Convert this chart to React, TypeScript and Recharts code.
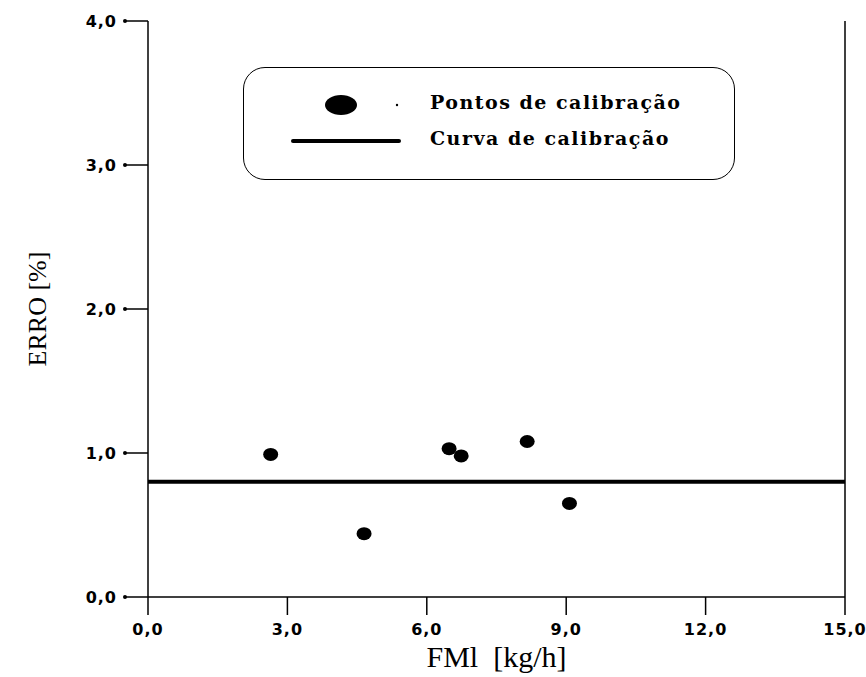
import { ComposedChart, Scatter, Line, XAxis, YAxis } from 'recharts';

// pontos de calibração
const pointX = [2.64, 4.65, 6.48, 6.74, 8.16, 9.07];
const pointY = [0.99, 0.44, 1.03, 0.98, 1.08, 0.65];
// curva de calibração
const curveX = [0, 15];
const curveY = [0.8, 0.8];
const xTicks = [0, 3, 6, 9, 12, 15];
const yTicks = [0, 1, 2, 3, 4];

const points = pointX.map((x, i) => ({ x, y: pointY[i] }));
const curve = curveX.map((x, i) => ({ x, y: curveY[i] }));

const fmt = (v: number) => v.toFixed(1).replace('.', ',');

const tickFont = { fontFamily: 'DejaVu Sans', fontWeight: 700, fontSize: 16, letterSpacing: 1, fill: '#000' };

const YTick = ({ x, y, payload }: any) => (
  <g>
    <circle cx={x + 9} cy={y} r={2} fill="#000" />
    <text x={x + 1} y={y} dy={6} textAnchor="end" {...tickFont}>{fmt(payload.value)}</text>
  </g>
);

const XTick = ({ x, y, payload }: any) => (
  <text x={x} y={y} dy={16} textAnchor="middle" {...tickFont}>{fmt(payload.value)}</text>
);

const Dot = ({ cx, cy }: any) => <ellipse cx={cx} cy={cy} rx={7.5} ry={6.5} fill="#000" />;

function LegendBox() {
  const text = { fontFamily: 'DejaVu Serif', fontWeight: 700, fontSize: 19, letterSpacing: 1.5, color: '#000' };
  return (
    <div style={{
      position: 'absolute', left: 243, top: 67, width: 490, height: 111,
      border: '1.5px solid #000', borderRadius: 22, background: '#fff',
    }}>
      <svg width={170} height={111} style={{ position: 'absolute', left: 0, top: 0 }}>
        <ellipse cx={97} cy={37} rx={16} ry={10} fill="#000" />
        <circle cx={153} cy={37} r={1.2} fill="#000" />
        <line x1={49} y1={73} x2={155} y2={73} stroke="#000" strokeWidth={4} strokeLinecap="round" />
      </svg>
      <div style={{ ...text, position: 'absolute', left: 186, top: 23, whiteSpace: 'nowrap' }}>Pontos de calibração</div>
      <div style={{ ...text, position: 'absolute', left: 186, top: 59, whiteSpace: 'nowrap' }}>Curva de calibração</div>
    </div>
  );
}

export default function App() {
  return (
    <div style={{ position: 'absolute', left: 0, top: 0, width: 866, height: 677, background: '#fff' }}>
      <ComposedChart width={866} height={677} margin={{ top: 21, right: 0, left: 0, bottom: 0 }}>
        <XAxis
          type="number"
          dataKey="x"
          domain={[0, 15]}
          ticks={xTicks}
          height={80}
          tickSize={18}
          tickMargin={4}
          tick={<XTick />}
          stroke="#000"
          strokeWidth={1.5}
          allowDataOverflow
          label={{ value: 'FMl\u00a0\u00a0[kg/h]', position: 'insideBottom', offset: 10, style: { fontFamily: 'Liberation Serif', fontSize: 30, fill: '#000' } }}
        />
        <YAxis
          yAxisId="left"
          type="number"
          dataKey="y"
          domain={[0, 4]}
          ticks={yTicks}
          width={148}
          tickSize={22}
          tickMargin={10}
          tick={<YTick />}
          stroke="#000"
          strokeWidth={1.5}
          label={{ value: 'ERRO [%]', angle: -90, position: 'insideLeft', offset: 37, style: { fontFamily: 'Liberation Serif', fontSize: 26, fill: '#000', textAnchor: 'middle' } }}
        />
        <YAxis
          yAxisId="right"
          orientation="right"
          type="number"
          domain={[0, 4]}
          width={21}
          tick={false}
          tickLine={false}
          stroke="#000"
          strokeWidth={1.5}
        />
        <Line
          yAxisId="left"
          data={curve}
          dataKey="y"
          stroke="#000"
          strokeWidth={4}
          dot={false}
          isAnimationActive={false}
        />
        <Scatter
          yAxisId="left"
          data={points}
          dataKey="y"
          fill="#000"
          shape={<Dot />}
          isAnimationActive={false}
        />
      </ComposedChart>
      <LegendBox />
    </div>
  );
}
